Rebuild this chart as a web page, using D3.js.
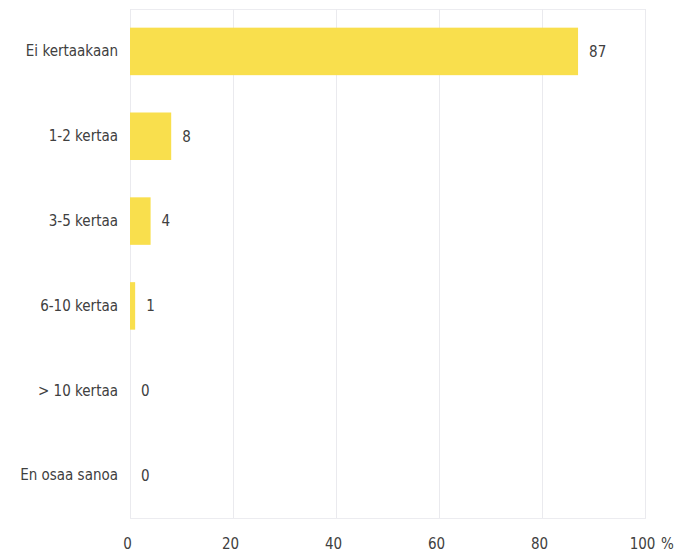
<!DOCTYPE html>
<html>
<head>
<meta charset="utf-8">
<script src="https://cdn.jsdelivr.net/npm/d3@7"></script>
<style>
  html, body { margin: 0; padding: 0; background: #fff; }
  svg { display: block; }
  text { font-family: "DejaVu Sans Condensed", "DejaVu Sans", sans-serif; font-stretch: condensed; fill: #404040; }
</style>
</head>
<body>
<svg id="chart" width="697" height="554"></svg>
<script>
// Answer categories and shares (%)
const categories = ["Ei kertaakaan", "1-2 kertaa", "3-5 kertaa", "6-10 kertaa", "> 10 kertaa", "En osaa sanoa"];
const values = [87, 8, 4, 1, 0, 0];
const tickValues = [0, 20, 40, 60, 80, 100];
const unitLabel = "%";

const data = categories.map((c, i) => ({ category: c, value: values[i] }));

const svg = d3.select("#chart");
const margin = { top: 9, right: 52, bottom: 36, left: 130 };
const width = 697 - margin.left - margin.right;
const height = 554 - margin.top - margin.bottom;
const fontSize = 15;

const g = svg.append("g").attr("transform", `translate(${margin.left},${margin.top})`);

const x = d3.scaleLinear().domain([0, 100]).range([0, width]);
const y = d3.scaleBand().domain(categories).range([0, height]).paddingInner(0.44).paddingOuter(0.22);

// Plot frame and vertical gridlines
g.append("rect")
  .attr("x", 0.5).attr("y", 0.5).attr("width", width).attr("height", height)
  .attr("fill", "none").attr("stroke", "#ececf0").attr("stroke-width", 1);

g.selectAll("line.grid")
  .data(tickValues)
  .join("line")
  .attr("class", "grid")
  .attr("x1", d => x(d) + 0.5).attr("x2", d => x(d) + 0.5)
  .attr("y1", 0).attr("y2", height)
  .attr("stroke", "#eaeaee").attr("stroke-width", 1);

// Bars
g.selectAll("rect.bar")
  .data(data)
  .join("rect")
  .attr("class", "bar")
  .attr("x", x(0))
  .attr("y", d => y(d.category))
  .attr("width", d => x(d.value) - x(0))
  .attr("height", y.bandwidth())
  .attr("fill", "#f9df4d");

// Value labels
g.selectAll("text.value")
  .data(data)
  .join("text")
  .attr("class", "value")
  .attr("x", d => x(d.value) + 11)
  .attr("y", d => y(d.category) + y.bandwidth() / 2)
  .attr("dy", "0.35em")
  .attr("font-size", fontSize)
  .text(d => d.value);

// Category axis
const yAxis = g.append("g").call(d3.axisLeft(y).tickSize(0).tickPadding(12));
yAxis.attr("font-family", null);
yAxis.select(".domain").remove();
yAxis.selectAll("text").attr("font-size", fontSize).style("fill", "#404040");

// Value axis
const xAxis = g.append("g")
  .attr("transform", `translate(0,${height})`)
  .call(d3.axisBottom(x).tickValues(tickValues).tickSize(0).tickPadding(20));
xAxis.attr("font-family", null);
xAxis.select(".domain").remove();
xAxis.selectAll("text").attr("font-size", fontSize).attr("dx", -3).style("fill", "#404040");

// Unit label
g.append("text")
  .attr("x", x(100) + 16)
  .attr("y", height + 20)
  .attr("dy", "0.71em")
  .attr("font-size", fontSize)
  .attr("text-anchor", "start")
  .text(unitLabel);
</script>
</body>
</html>
